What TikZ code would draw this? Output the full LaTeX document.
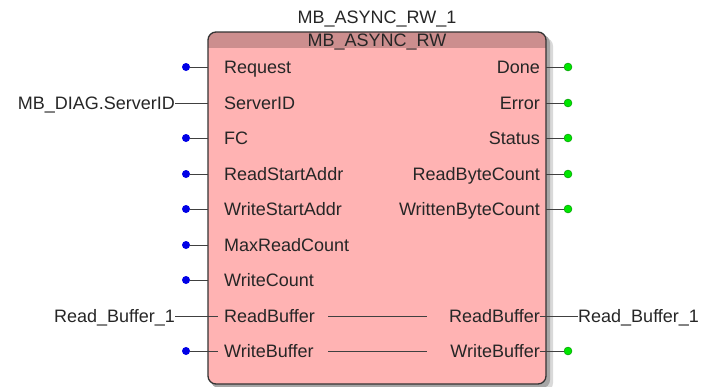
\documentclass[tikz,border=0pt]{standalone}
\usepackage{fontspec}
\setmainfont{Liberation Sans}
\definecolor{fbbody}{HTML}{FFB3B3}
\definecolor{fbhead}{HTML}{CC8E8E}
\definecolor{wirecol}{HTML}{404040}
\definecolor{pinin}{HTML}{0000E6}
\definecolor{pinout}{HTML}{00E600}
\tikzset{
  pinlbl/.style={inner sep=0pt, text height=12pt, text depth=0pt, font=\fontsize{18}{21}\selectfont, text=black!85},
  indot/.style={circle, fill=pinin, inner sep=0pt, minimum size=8pt},
  outdot/.style={circle, fill=pinout, draw=green!55!black, line width=0.4pt, inner sep=0pt, minimum size=8pt},
  wire/.style={draw=wirecol, line width=1pt}
}
\begin{document}
\begin{tikzpicture}[x=1pt, y=-1pt]
	\useasboundingbox (0,0) rectangle (706,386);
	% shadow and body
	\fill[black!15, rounded corners=8pt] (214,38) rectangle (553,391);
	\fill[black!35, rounded corners=8pt] (211,35) rectangle (550,388);
	\fill[fbbody, rounded corners=8pt] (208,32) rectangle (546,384);
	\begin{scope}
		\clip[rounded corners=8pt] (208,32) rectangle (546,384);
		\fill[fbhead] (208,32) rectangle (546,48);
	\end{scope}
	\draw[black!80, line width=1.3pt, rounded corners=8pt] (208,32) rectangle (546,384);
	
	\node[pinlbl] (inst) at (377,17) {MB\_ASYNC\_RW\_1};
	\node[pinlbl] (ftype) at (377,40) {MB\_ASYNC\_RW};
	
	% inputs
	\node[pinlbl, anchor=west] (iReq) at (224,67) {Request};
	\node[pinlbl, anchor=west] (iSrv) at (224,103) {ServerID};
	\node[pinlbl, anchor=west] (iFc) at (224,138) {FC};
	\node[pinlbl, anchor=west] (iRsa) at (224,174) {ReadStartAddr};
	\node[pinlbl, anchor=west] (iWsa) at (224,209) {WriteStartAddr};
	\node[pinlbl, anchor=west] (iMrc) at (224,245) {MaxReadCount};
	\node[pinlbl, anchor=west] (iWc) at (224,280) {WriteCount};
	\node[pinlbl, anchor=west] (iRb) at (224,316) {ReadBuffer};
	\node[pinlbl, anchor=west] (iWb) at (224,351) {WriteBuffer};
	
	% outputs
	\node[pinlbl, anchor=east] (oDone) at (540,67) {Done};
	\node[pinlbl, anchor=east] (oErr) at (540,103) {Error};
	\node[pinlbl, anchor=east] (oStat) at (540,138) {Status};
	\node[pinlbl, anchor=east] (oRbc) at (540,174) {ReadByteCount};
	\node[pinlbl, anchor=east] (oWbc) at (540,209) {WrittenByteCount};
	\node[pinlbl, anchor=east] (oRb) at (540,316) {ReadBuffer};
	\node[pinlbl, anchor=east] (oWb) at (540,351) {WriteBuffer};
	
	% pin ends on the frame
	\coordinate (eReq) at (208,67);
	\coordinate (eSrv) at (208,103);
	\coordinate (eFc) at (208,138);
	\coordinate (eRsa) at (208,174);
	\coordinate (eWsa) at (208,209);
	\coordinate (eMrc) at (208,245);
	\coordinate (eWc) at (208,280);
	\coordinate (eRb) at (218,316);
	\coordinate (eWb) at (218,351);
	\coordinate (eDone) at (546,67);
	\coordinate (eErr) at (546,103);
	\coordinate (eStat) at (546,138);
	\coordinate (eRbc) at (546,174);
	\coordinate (eWbc) at (546,209);
	
	% in-out pass-through
	\coordinate (mRbA) at (328,316);
	\coordinate (mRbB) at (427,316);
	\coordinate (mWbA) at (328,351);
	\coordinate (mWbB) at (427,351);
	\draw[wire] (mRbA) -- (mRbB);
	\draw[wire] (mWbA) -- (mWbB);
	
	% unconnected inputs
	\node[indot] (dReq) at (186,67) {};
	\node[indot] (dFc) at (186,138) {};
	\node[indot] (dRsa) at (186,174) {};
	\node[indot] (dWsa) at (186,209) {};
	\node[indot] (dMrc) at (186,245) {};
	\node[indot] (dWc) at (186,280) {};
	\node[indot] (dWb) at (186,351) {};
	\draw[wire] (dReq) -- (eReq);
	\draw[wire] (dFc) -- (eFc);
	\draw[wire] (dRsa) -- (eRsa);
	\draw[wire] (dWsa) -- (eWsa);
	\draw[wire] (dMrc) -- (eMrc);
	\draw[wire] (dWc) -- (eWc);
	\draw[wire] (dWb) -- (eWb);
	
	% connected variables
	\node[pinlbl, anchor=east] (vSrv) at (175,103) {MB\_DIAG.ServerID};
	\node[pinlbl, anchor=east] (vRbIn) at (175,316) {Read\_Buffer\_1};
	\node[pinlbl, anchor=west] (vRbOut) at (578,316) {Read\_Buffer\_1};
	\draw[wire] (vSrv) -- (eSrv);
	\draw[wire] (vRbIn) -- (eRb);
	\draw[wire] (oRb) -- (vRbOut);
	
	% unconnected outputs
	\node[outdot] (dDone) at (568,67) {};
	\node[outdot] (dErr) at (568,103) {};
	\node[outdot] (dStat) at (568,138) {};
	\node[outdot] (dRbc) at (568,174) {};
	\node[outdot] (dWbc) at (568,209) {};
	\node[outdot] (dWbOut) at (568,351) {};
	\draw[wire] (eDone) -- (dDone);
	\draw[wire] (eErr) -- (dErr);
	\draw[wire] (eStat) -- (dStat);
	\draw[wire] (eRbc) -- (dRbc);
	\draw[wire] (eWbc) -- (dWbc);
	\draw[wire] (oWb) -- (dWbOut);
\end{tikzpicture}
\end{document}
